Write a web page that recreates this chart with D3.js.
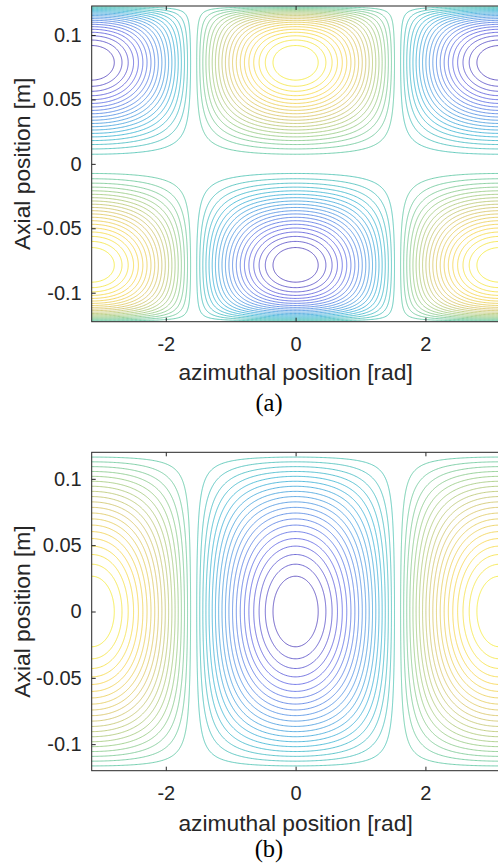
<!DOCTYPE html>
<html>
<head>
<meta charset="utf-8">
<script src="https://cdn.jsdelivr.net/npm/d3@7"></script>
<style>
  html, body { margin: 0; padding: 0; background: #ffffff; }
  svg { display: block; }
</style>
</head>
<body>
<svg id="fig" width="498" height="866"></svg>
<script>
// ---- chart values -------------------------------------------------------
// tick values along each axis
const azimuthTicks = [-2, 0, 2];                    // rad
const axialTicks = [-0.1, -0.05, 0, 0.05, 0.1];     // m
const azimuthRange = [-Math.PI, Math.PI];           // rad
// axial half-length of the plotted domain, one entry per panel (m)
const axialHalfLength = [0.1225, 0.120];
// positive contour levels of the normalised field; negatives mirror them
const positiveLevels = [0.047, 0.094, 0.141, 0.188, 0.235, 0.282, 0.329,
  0.376, 0.423, 0.47, 0.517, 0.564, 0.611, 0.658, 0.705, 0.752, 0.799,
  0.846, 0.893, 0.94];
// panel (a) axial profile: relative peak position, peak sharpness,
// and end-layer decay rate
const axialPeakRatio = [0.645];
const axialPeakPower = [1.6];
const axialEndDecay = [18];
const panelCaptions = ["(a)", "(b)"];
const axisTitles = ["azimuthal position [rad]", "Axial position [m]"];
// parula colour stops
const parulaPos = [0, 0.125, 0.25, 0.375, 0.5, 0.625, 0.75, 0.875, 1];
const parulaHex = ["#3e26a8", "#4a50e0", "#3a85e0", "#20aad0", "#3bbfa0",
  "#8fc470", "#d2bd55", "#f5cf35", "#f2f020"];

// ---- derived helpers ----------------------------------------------------
const levels = positiveLevels.map(v => -v).reverse().concat(positiveLevels);
const parula = d3.scaleLinear().domain(parulaPos).range(parulaHex)
  .interpolate(d3.interpolateRgb).clamp(true);

// panel (a) axial shape on |t| = |z|/L, before normalisation
function shapeA(u) {
  const t0 = axialPeakRatio[0], q = axialPeakPower[0], k = axialEndDecay[0];
  const s = Math.sin(Math.PI * u / (2 * t0));
  return Math.sign(s) * Math.pow(Math.abs(s), q) * (1 - Math.exp(-k * (1 - u)));
}
const shapeAMax = d3.max(d3.range(0, 1.0001, 0.0005), shapeA);
// axial profile of panel (a): odd in z, unit peak
function profileA(z, L) {
  const t = z / L;
  return Math.sign(t) * shapeA(Math.abs(t)) / shapeAMax;
}
// axial profile of panel (b): even in z, unit at the centre
function profileB(z, L) {
  return Math.cos(Math.PI * z / (2 * L));
}
const fields = [
  (th, z, L) => Math.cos(th) * profileA(z, L),
  (th, z, L) => -Math.cos(th) * profileB(z, L)
];

// ---- layout -------------------------------------------------------------
const INK = "#262626";
const SANS = "'Liberation Sans', Arial, Helvetica, sans-serif";
const SERIF = "'Liberation Serif', 'Times New Roman', serif";
const plotLeft = 91.7, plotRight = 499.5;
const panels = [
  { top: 6, bottom: 321.7, xTitleY: 379.5, captionY: 411 },
  { top: 452.3, bottom: 770.7, xTitleY: 830.5, captionY: 857 }
];

const svg = d3.select("#fig");
const defs = svg.append("defs");

panels.forEach((P, k) => {
  const L = axialHalfLength[k];
  const x = d3.scaleLinear().domain(azimuthRange).range([plotLeft, plotRight]);
  const y = d3.scaleLinear().domain([-L, L]).range([P.bottom, P.top]);
  const g = svg.append("g");

  defs.append("clipPath").attr("id", "clip" + k)
    .append("rect")
    .attr("x", plotLeft).attr("y", P.top)
    .attr("width", plotRight - plotLeft).attr("height", P.bottom - P.top);

  // sample the field on a grid that overhangs the plot box a little
  const m = 3, nx = 320, ny = 480;
  const dth = (azimuthRange[1] - azimuthRange[0]) / (nx - 1 - 2 * m);
  const dz = (2 * L) / (ny - 1 - 2 * m);
  const values = new Float64Array(nx * ny);
  for (let j = 0; j < ny; j++) {
    const z = -L + (j - m) * dz;
    for (let i = 0; i < nx; i++) {
      const th = azimuthRange[0] + (i - m) * dth;
      values[j * nx + i] = fields[k](th, z, L);
    }
  }
  const contours = d3.contours().size([nx, ny]).thresholds(levels)(values);
  const project = d3.geoTransform({
    point(gx, gy) {
      const th = azimuthRange[0] + (gx - 0.5 - m) * dth;
      const z = -L + (gy - 0.5 - m) * dz;
      this.stream.point(x(th), y(z));
    }
  });
  const path = d3.geoPath(project);

  g.append("g").attr("clip-path", `url(#clip${k})`)
    .selectAll("path").data(contours).join("path")
    .attr("d", path)
    .attr("fill", "none")
    .attr("stroke", d => parula((d.value + 1) / 2))
    .attr("stroke-width", 1)
    .attr("stroke-opacity", 0.75)
    .attr("stroke-linejoin", "round");

  // axes (MATLAB style: inward ticks, boxed)
  const styleAxis = sel => {
    sel.select(".domain").remove();
    sel.selectAll(".tick line").attr("stroke", INK);
    sel.selectAll(".tick text").attr("fill", INK)
      .style("font-family", SANS).style("font-size", "20px");
  };
  g.append("g").attr("transform", `translate(0,${P.bottom})`)
    .call(d3.axisBottom(x).tickValues(azimuthTicks).tickSizeInner(-4)
      .tickSizeOuter(0).tickPadding(15).tickFormat(d => String(d)))
    .call(styleAxis);
  g.append("g").attr("transform", `translate(0,${P.top})`)
    .call(d3.axisTop(x).tickValues(azimuthTicks).tickSizeInner(-4)
      .tickSizeOuter(0).tickFormat(() => ""))
    .call(styleAxis);
  g.append("g").attr("transform", `translate(${plotLeft},0)`)
    .call(d3.axisLeft(y).tickValues(axialTicks).tickSizeInner(-4)
      .tickSizeOuter(0).tickPadding(10).tickFormat(d => String(d)))
    .call(styleAxis);

  g.append("rect")
    .attr("x", plotLeft).attr("y", P.top)
    .attr("width", plotRight - plotLeft).attr("height", P.bottom - P.top)
    .attr("fill", "none").attr("stroke", INK).attr("stroke-width", 1);

  g.append("text")
    .attr("x", (plotLeft + plotRight) / 2).attr("y", P.xTitleY)
    .attr("text-anchor", "middle").attr("fill", INK)
    .style("font-family", SANS).style("font-size", "22.8px")
    .text(axisTitles[0]);
  g.append("text")
    .attr("transform", `translate(29.5,${(P.top + P.bottom) / 2}) rotate(-90)`)
    .attr("text-anchor", "middle").attr("fill", INK)
    .style("font-family", SANS).style("font-size", "22.8px")
    .text(axisTitles[1]);
  g.append("text")
    .attr("x", 269).attr("y", P.captionY)
    .attr("text-anchor", "middle").attr("fill", "#000")
    .style("font-family", SERIF).style("font-size", "24.5px")
    .text(panelCaptions[k]);
});
</script>
</body>
</html>
